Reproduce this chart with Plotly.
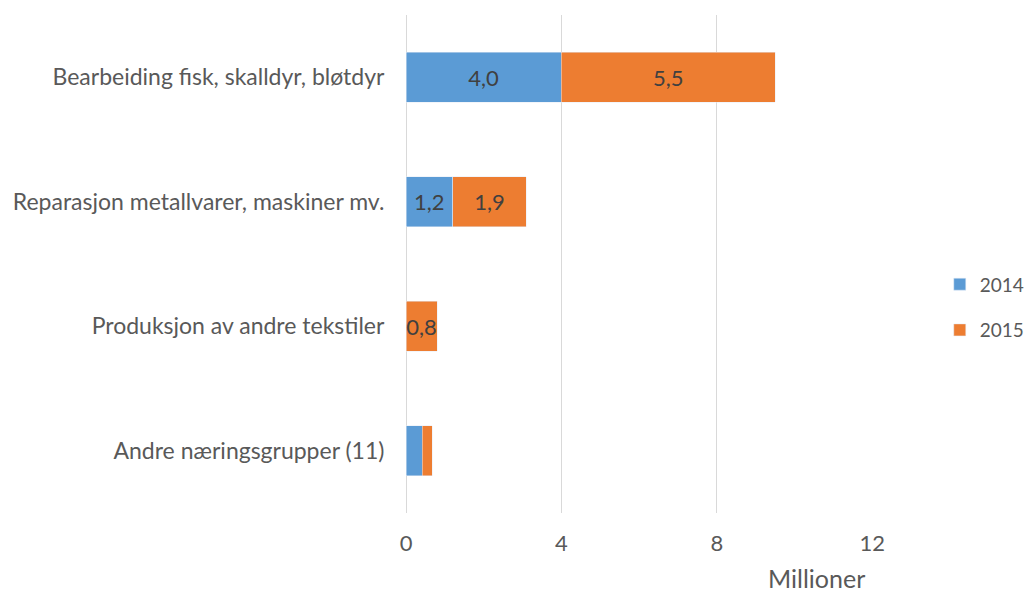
import plotly.graph_objects as go

# categories listed top to bottom
categories = [
    "Bearbeiding fisk, skalldyr, bløtdyr",
    "Reparasjon metallvarer, maskiner mv.",
    "Produksjon av andre tekstiler",
    "Andre næringsgrupper (11)",
]
values_2014 = [4.0, 1.2, 0.0, 0.42]
values_2015 = [5.5, 1.9, 0.8, 0.26]
# which bars carry a data label in the original
label_2014 = [True, True, False, False]
label_2015 = [True, True, True, False]
x_ticks = [0, 4, 8, 12]


def labels(values, show):
    return [f"{v:.1f}".replace(".", ",") if s else "" for v, s in zip(values, show)]


FONT = "Lato"
TEXT_COLOR = "#595959"

fig = go.Figure()
for name, vals, show, color, grp in [
    ("2014", values_2014, label_2014, "#5B9BD5", "a"),
    ("2015", values_2015, label_2015, "#ED7D31", "b"),
]:
    fig.add_trace(
        go.Bar(
            y=categories,
            x=vals,
            name=name,
            orientation="h",
            marker=dict(color=color),
            text=labels(vals, show),
            textposition="inside",
            insidetextanchor="middle",
            textangle=0,
            constraintext="none",
            textfont=dict(color="#404040", size=22),
            legendgroup=grp,
        )
    )

# page body adds an 8px margin, so the figure is 1024x586
fig.update_layout(
    barmode="stack",
    bargap=0.6,
    width=1024,
    height=586,
    margin=dict(l=398, r=159, t=7, b=81, autoexpand=False),
    paper_bgcolor="white",
    plot_bgcolor="white",
    font=dict(family=FONT, size=23, color=TEXT_COLOR),
    uniformtext=dict(minsize=22, mode="show"),
    legend=dict(
        x=1.143,
        y=0.413,
        xanchor="left",
        yanchor="middle",
        tracegroupgap=18,
        font=dict(size=19, color=TEXT_COLOR),
        itemwidth=30,
    ),
    xaxis=dict(
        range=[0, 12.02],
        tickvals=x_ticks,
        showgrid=True,
        gridcolor="#D9D9D9",
        gridwidth=1,
        zeroline=True,
        zerolinecolor="#D9D9D9",
        zerolinewidth=1,
        showline=False,
        ticks="outside",
        ticklen=11,
        tickcolor="rgba(0,0,0,0)",
        tickfont=dict(size=22),
        automargin=False,
    ),
    yaxis=dict(
        categoryorder="array",
        categoryarray=categories[::-1],
        showgrid=False,
        zeroline=False,
        showline=False,
        ticks="outside",
        ticklen=16,
        tickcolor="rgba(0,0,0,0)",
        tickfont=dict(size=23),
        automargin=False,
    ),
    annotations=[
        dict(
            text="Millioner",
            x=(816 - 406) / 467,
            y=-0.165,
            xref="paper",
            yref="paper",
            xanchor="center",
            showarrow=False,
            font=dict(size=25, color=TEXT_COLOR),
        )
    ],
)

fig.write_html("out.html")
